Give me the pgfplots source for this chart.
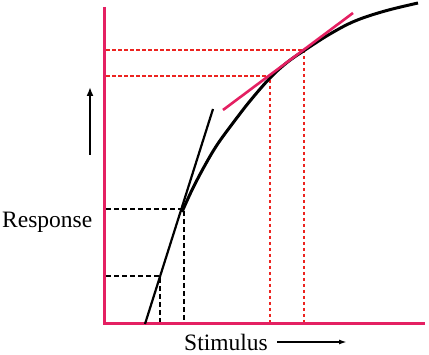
\documentclass[border=0pt]{standalone}
\usepackage{pgfplots}
\pgfplotsset{compat=1.18}
\usepackage{fontspec}
\setmainfont{Liberation Serif}
\usetikzlibrary{arrows.meta}
\definecolor{axpink}{RGB}{228,32,98}
\definecolor{dotred}{RGB}{236,36,32}
\begin{document}
\begin{tikzpicture}
\begin{axis}[
  width=429pt, height=355pt, scale only axis,
  xmin=0, xmax=429, ymin=0, ymax=355,
  hide axis, clip=false,
]
\addplot[draw=none] coordinates {(0,0) (429,355)};
% red dotted guide lines
\addplot[dotred, line width=2.2pt, dash pattern=on 3.5pt off 2.5pt] coordinates {(106,305) (304,305) (304,31)};
\addplot[dotred, line width=2.2pt, dash pattern=on 3.5pt off 2.5pt] coordinates {(106,279) (270,279) (270,31)};
% black dashed guide lines
\addplot[black, line width=1.5pt, dash pattern=on 5pt off 3pt] coordinates {(106,146) (184,146) (184,31)};
\addplot[black, line width=1.5pt, dash pattern=on 5pt off 3pt] coordinates {(106,79) (160,79) (160,31)};
% axes
\addplot[axpink, line width=3pt] coordinates {(104,348) (104,31) (425,31)};
% steep tangent
\addplot[black, line width=2.2pt] coordinates {(145,31) (213,246)};
% curve
\addplot[black, line width=3pt, smooth, tension=0.6] coordinates {
(182,143) (192,165) (204,188) (217,210) (233,232) (250,254) (270,277) (287,292.5) (305,305) (330,321) (355,334) (385,344) (418,352)};
% shallow tangent
\addplot[axpink, line width=2.6pt] coordinates {(223,245) (353,342)};
% arrows
\addplot[black, line width=2pt, -{Latex[length=9pt,width=7pt]}] coordinates {(90,200) (90,268)};
\addplot[black, line width=1.8pt, -{Latex[length=8pt,width=5pt]}] coordinates {(277,13) (347,13)};
% labels
\node[anchor=base west, inner sep=0pt, font=\fontsize{23.5}{26}\selectfont] at (axis cs:2,127) {Response};
\node[anchor=base west, inner sep=0pt, font=\fontsize{23.5}{26}\selectfont] at (axis cs:184,4) {Stimulus};
\end{axis}
\end{tikzpicture}
\end{document}
